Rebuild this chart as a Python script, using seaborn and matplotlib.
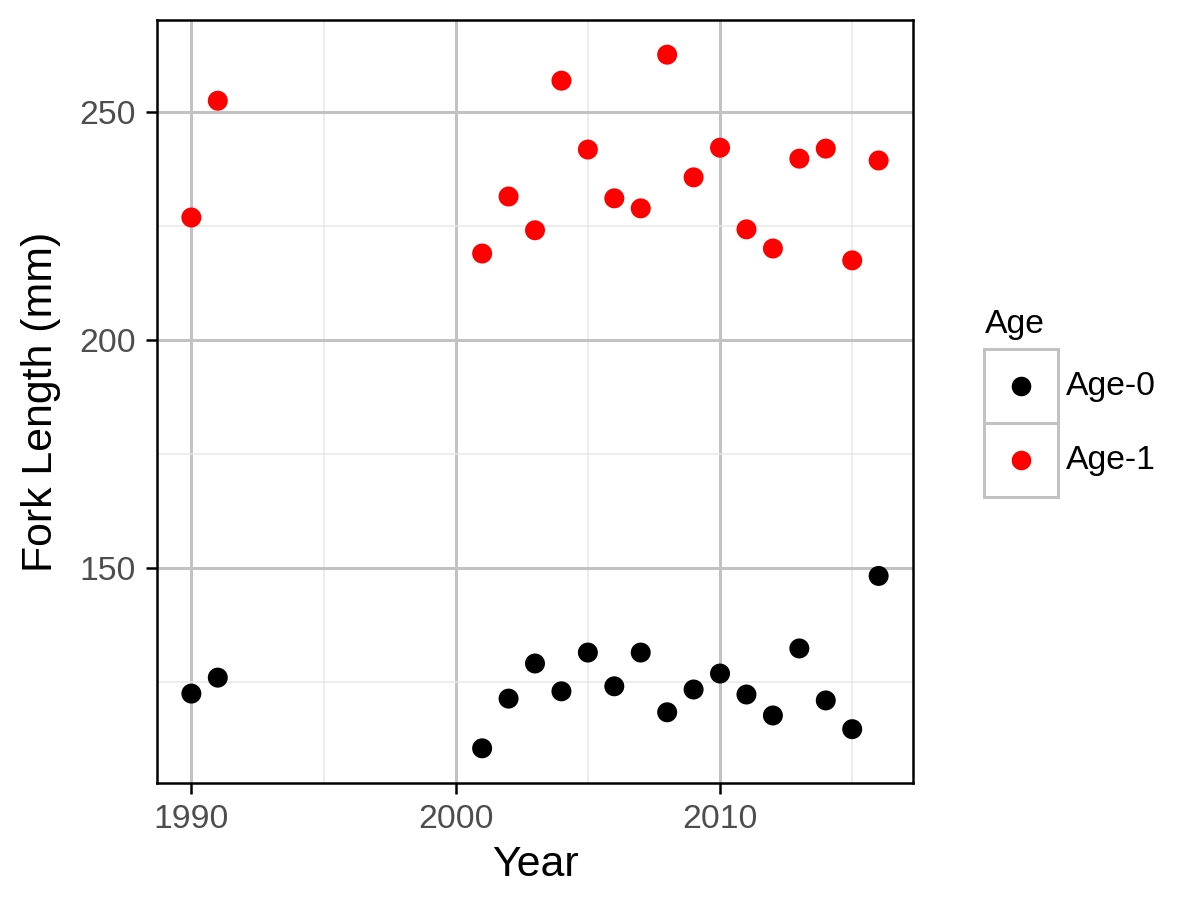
import matplotlib
matplotlib.use("Agg")
import matplotlib.pyplot as plt
from matplotlib.patches import Rectangle
import pandas as pd
import seaborn as sns

# data
years = [1990, 1991, 2001, 2002, 2003, 2004, 2005, 2006, 2007,
         2008, 2009, 2010, 2011, 2012, 2013, 2014, 2015, 2016]
age0_len = [122.4, 125.9, 110.4, 121.3, 129.0, 122.9, 131.4, 124.0, 131.4,
            118.3, 123.3, 126.8, 122.2, 117.6, 132.3, 120.9, 114.6, 148.2]
age1_len = [226.8, 252.4, 218.9, 231.4, 224.0, 256.8, 241.7, 231.0, 228.8,
            262.5, 235.6, 242.1, 224.2, 220.0, 239.7, 241.9, 217.4, 239.3]
ages = ["Age-0", "Age-1"]
colors = {"Age-0": "black", "Age-1": "red"}

df = pd.DataFrame({
    "Year": years * 2,
    "Length": age0_len + age1_len,
    "Age": [ages[0]] * len(years) + [ages[1]] * len(years),
})

sns.set_style("white")
plt.rcParams['font.family'] = ['Liberation Sans', 'DejaVu Sans']

W, H = 1199, 899
fig = plt.figure(figsize=(W / 300, H / 300), dpi=300)
ax = fig.add_axes([157 / W, 1 - 783 / H, (913 - 157) / W, (783 - 20) / H])

sns.scatterplot(data=df, x="Year", y="Length", hue="Age", palette=colors,
                s=23, edgecolor="none", linewidth=0, legend=False, ax=ax, zorder=3)

# ggplot-style 5% expansion
xmin, xmax = min(years), max(years)
ymin, ymax = min(df["Length"]), max(df["Length"])
xpad, ypad = (xmax - xmin) * 0.05, (ymax - ymin) * 0.05
ax.set_xlim(xmin - xpad, xmax + xpad)
ax.set_ylim(ymin - ypad, ymax + ypad)

ax.set_xticks([1990, 2000, 2010])
ax.set_xticks([1995, 2005, 2015], minor=True)
ax.set_yticks([150, 200, 250])
ax.set_yticks([125, 175, 225], minor=True)
ax.grid(which="major", color="#c2c2c2", linewidth=0.72)
ax.grid(which="minor", color="#e6e6e6", linewidth=0.36)
ax.set_axisbelow(True)

for sp in ax.spines.values():
    sp.set_color("black")
    sp.set_linewidth(0.6)

ax.tick_params(which="major", length=2.6, width=0.6, color="black",
               labelsize=8.1, labelcolor="#4d4d4d", pad=2.4,
               bottom=True, left=True)
ax.tick_params(which="minor", length=0)

ax.set_xlabel("Year", fontsize=10.3, color="black", labelpad=2.5)
ax.set_ylabel("Fork Length (mm)", fontsize=10.3, color="black", labelpad=4.5)

# legend drawn by hand, ggplot style keys with grey borders
def fx(px):
    return px / W

def fy(py):
    return 1 - py / H

fig.text(fx(985), fy(333), "Age", fontsize=8.1, color="black", ha="left", va="baseline")
key_top, key_h, key_l, key_w = 349, 74, 984, 74
for i, a in enumerate(ages):
    top = key_top + i * key_h
    fig.patches.append(Rectangle((fx(key_l), fy(top + key_h)), key_w / W, key_h / H,
                                 transform=fig.transFigure, facecolor="white",
                                 edgecolor="#c2c2c2", linewidth=0.72))
    fig.lines.append(plt.Line2D([fx(key_l + key_w / 2)], [fy(top + key_h / 2)],
                                transform=fig.transFigure, marker="o", markersize=4.7,
                                color=colors[a], markeredgewidth=0, linestyle="none"))
    fig.text(fx(1066), fy(top + key_h / 2), a, fontsize=8.1, color="black",
             ha="left", va="center")

fig.savefig("out.png", dpi=300)
